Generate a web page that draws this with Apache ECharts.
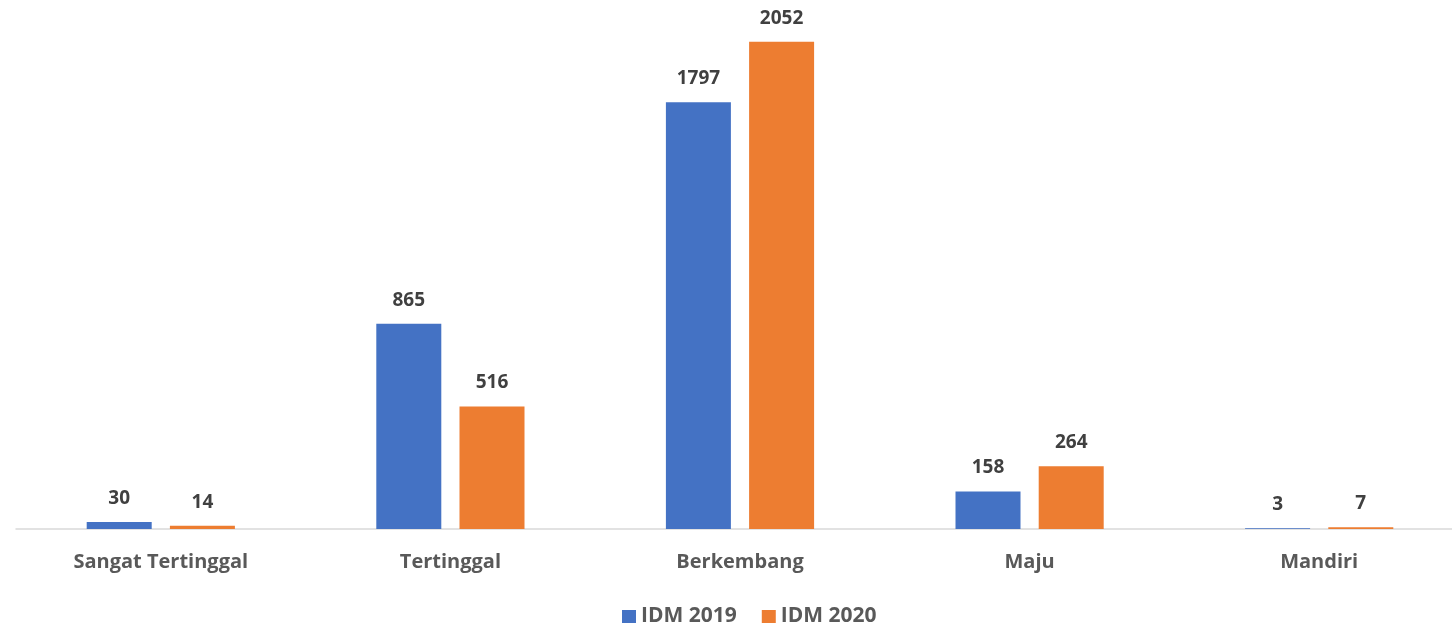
<!DOCTYPE html>
<html>
<head>
<meta charset="utf-8">
<script src="https://cdn.jsdelivr.net/npm/echarts@6/dist/echarts.min.js"></script>
<style>
  html, body { margin: 0; padding: 0; background: #fff; }
  #chart { width: 1452px; height: 624px; }
</style>
</head>
<body>
<div id="chart"></div>
<script>
// kategori status desa
const categories = ['Sangat Tertinggal', 'Tertinggal', 'Berkembang', 'Maju', 'Mandiri']
const idm2019 = [30, 865, 1797, 158, 3]
const idm2020 = [14, 516, 2052, 264, 7]

const fontFam = '"Open Sans", "Noto Sans", sans-serif'

const labelStyle = {
  show: true,
  position: 'top',
  distance: 14,
  fontFamily: fontFam,
  fontWeight: 'bold',
  fontSize: 19,
  color: '#404040'
}

const chart = echarts.init(document.getElementById('chart'))
chart.setOption({
  animation: false,
  grid: { left: 16, width: 1448, top: 10, bottom: 95, outerBoundsMode: 'none' },
  legend: {
    top: 601,
    left: 617,
    itemWidth: 14,
    itemHeight: 13,
    itemGap: 25,
    icon: 'rect',
    textStyle: { fontFamily: fontFam, fontWeight: 'bold', fontSize: 21, color: '#595959' },
    data: ['IDM 2019', 'IDM 2020']
  },
  xAxis: {
    type: 'category',
    data: categories,
    axisLine: { lineStyle: { color: '#d9d9d9', width: 1.5 } },
    axisTick: { show: false },
    axisLabel: {
      margin: 23,
      fontFamily: fontFam,
      fontWeight: 'bold',
      fontSize: 20,
      color: '#595959'
    }
  },
  yAxis: {
    type: 'value',
    min: 0,
    max: 2186,
    show: false,
    splitLine: { show: false }
  },
  series: [
    {
      name: 'IDM 2019',
      type: 'bar',
      data: idm2019,
      barWidth: 65,
      barGap: '28%',
      itemStyle: { color: '#4472C4' },
      label: labelStyle
    },
    {
      name: 'IDM 2020',
      type: 'bar',
      data: idm2020,
      barWidth: 65,
      itemStyle: { color: '#ED7D31' },
      label: labelStyle
    }
  ]
})
</script>
</body>
</html>
